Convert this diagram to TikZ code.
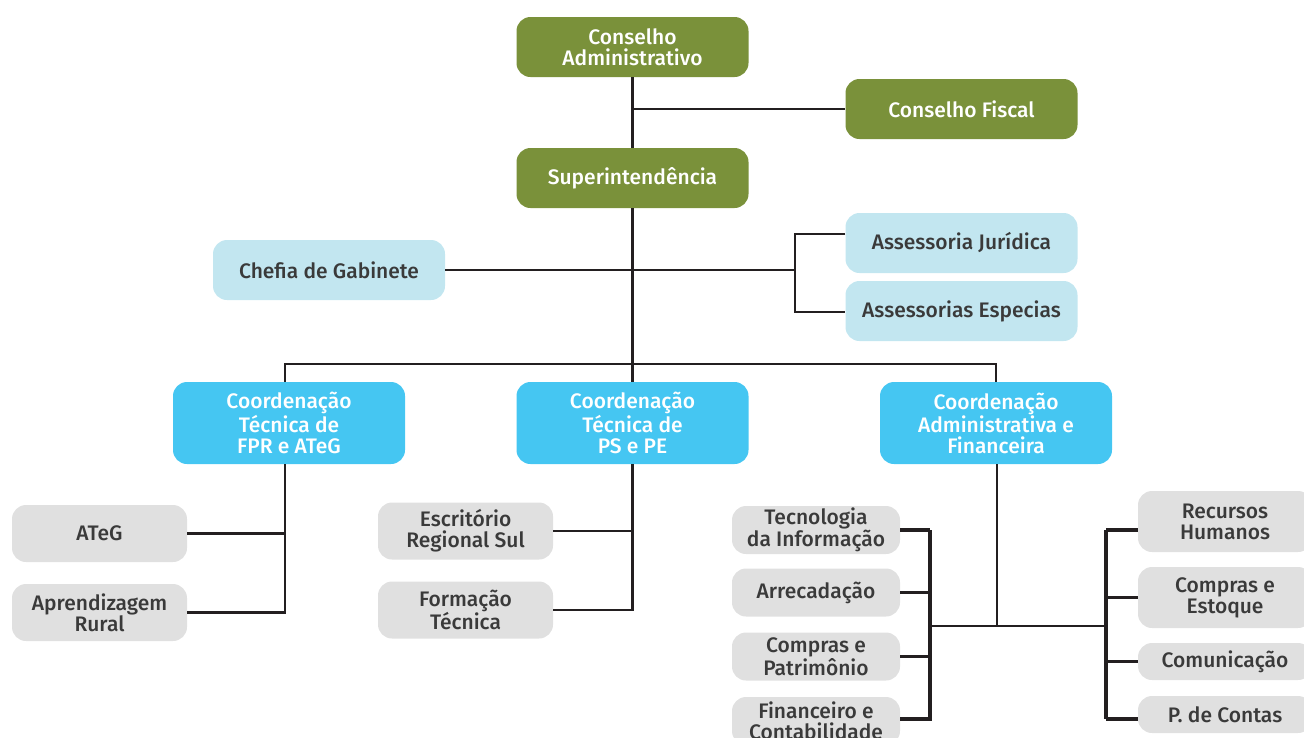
\documentclass[tikz,border=0pt]{standalone}
\usepackage{fontspec}
\setmainfont{Fira Sans}[UprightFont=* Medium]
\definecolor{cgreen}{HTML}{7A913A}
\definecolor{clight}{HTML}{C2E6F0}
\definecolor{ccyan}{HTML}{45C6F2}
\definecolor{cgray}{HTML}{E0E0E0}
\definecolor{ctext}{HTML}{3A3A3A}
\definecolor{cline}{HTML}{231F20}
\tikzset{
  basebox/.style={rectangle, rounded corners=14pt, inner sep=0pt, align=center,
    font=\fontsize{21}{21}\selectfont},
  gbox/.style={basebox, fill=cgreen, text=white, minimum width=232pt, minimum height=60pt},
  lbox/.style={basebox, fill=clight, text=ctext, minimum width=232pt, minimum height=60pt},
  cbox/.style={basebox, fill=ccyan, text=white, minimum width=232pt, minimum height=82pt},
  sbox/.style={basebox, fill=cgray, text=ctext, minimum width=175pt, minimum height=57pt},
  tbox/.style={basebox, fill=cgray, text=ctext, minimum width=168pt, minimum height=48pt},
  rbox/.style={basebox, fill=cgray, text=ctext, minimum width=174pt},
  ln/.style={draw=cline, line width=2.5pt},
  lnb/.style={draw=cline, line width=3.4pt},
}
\begin{document}
\begin{tikzpicture}[x=1pt,y=-1pt]
\useasboundingbox (0,0) rectangle (1304,737);
% top
\node[gbox] (ca) at (632.5,47) {Conselho\\Administrativo};
\node[gbox] (cf) at (961.5,109) {Conselho Fiscal};
\node[gbox] (sup) at (632.5,178) {Superintend\^encia};
\node[lbox] (cg) at (329,270) {Chefia de Gabinete};
\node[lbox] (aj) at (961.5,243) {Assessoria Jur\'idica};
\node[lbox] (ae) at (961.5,311) {Assessorias Especias};
% coordinations
\node[cbox] (c1) at (289,423) {Coordena\c{c}\~ao\\T\'ecnica de\\FPR e ATeG};
\node[cbox] (c2) at (632.5,423) {Coordena\c{c}\~ao\\T\'ecnica de\\PS e PE};
\node[cbox] (c3) at (996,423) {Coordena\c{c}\~ao\\Administrativa e\\Financeira};
% FPR
\node[sbox] (ateg) at (99.5,533.5) {ATeG};
\node[sbox] (apr) at (99.5,612.5) {Aprendizagem\\Rural};
% PS
\node[sbox] (esc) at (465.5,531) {Escrit\'orio\\Regional Sul};
\node[sbox] (ftec) at (465.5,610) {Forma\c{c}\~ao\\T\'ecnica};
% Admin left
\node[tbox] (ti) at (816,530) {Tecnologia\\da Informa\c{c}\~ao};
\node[tbox] (arr) at (816,592.5) {Arrecada\c{c}\~ao};
\node[tbox] (cp) at (816,656.5) {Compras e\\Patrim\^onio};
\node[tbox] (fc) at (816,721) {Financeiro e\\Contabilidade};
% Admin right
\node[rbox, minimum height=61pt] (rh) at (1225,521.5) {Recursos\\Humanos};
\node[rbox, minimum height=61pt] (ce) at (1225,597.5) {Compras e\\Estoque};
\node[rbox, minimum height=37pt] (com) at (1225,661.5) {Comunica\c{c}\~ao};
\node[rbox, minimum height=37pt] (pc) at (1225,714.5) {P. de Contas};
% coordinates
\coordinate (jf) at (632.5,109);
\coordinate (ab) at (795,270);
\coordinate (ab1) at (795,234);
\coordinate (ab2) at (795,312);
\coordinate (t) at (632.5,364);
\coordinate (s1) at (285,612.5);
\coordinate (s3) at (997,626);
\coordinate (bl) at (930,626);
\coordinate (br) at (1106,626);
% connectors
\draw[ln] (ca.south) -- (sup.north);
\draw[ln] (jf) -- (cf.west);
\draw[ln] (sup.south) -- (t);
\draw[ln] (cg.east) -- (ab);
\draw[ln] (aj.west |- ab1) -- (ab1) -- (ab2) -- (ae.west |- ab2);
\draw[ln] (s1 |- c1.north) |- (t) -| (c3.north);
\draw[ln] (t) -- (c2.north);
% FPR
\draw[ln] (s1 |- c1.south) -- (s1) -- (apr.east);
\draw[ln] (ateg.east) -- (s1 |- ateg.east);
% PS
\draw[ln] (c2.south) -- (c2.south |- ftec.east) -- (ftec.east);
\draw[ln] (esc.east) -- (c2.south |- esc.east);
% Admin
\draw[ln] (s3 |- c3.south) -- (s3);
\draw[ln] (bl) -- (br);
\draw[lnb] (bl |- ti.east) -- (bl |- fc.east);
\draw[lnb] (ti.east) -- (bl |- ti.east);
\draw[lnb] (arr.east) -- (bl |- arr.east);
\draw[lnb] (cp.east) -- (bl |- cp.east);
\draw[lnb] (fc.east |- 0,719) -- (930,719);
\draw[lnb] (br |- 0,530) -- (br |- 0,719);
\draw[lnb] (br |- 0,530) -- (rh.west |- 0,530);
\draw[lnb] (br |- 0,597.5) -- (ce.west |- 0,597.5);
\draw[lnb] (br |- com.west) -- (com.west);
\draw[lnb] (br |- 0,719) -- (pc.west |- 0,719);
\end{tikzpicture}
\end{document}
